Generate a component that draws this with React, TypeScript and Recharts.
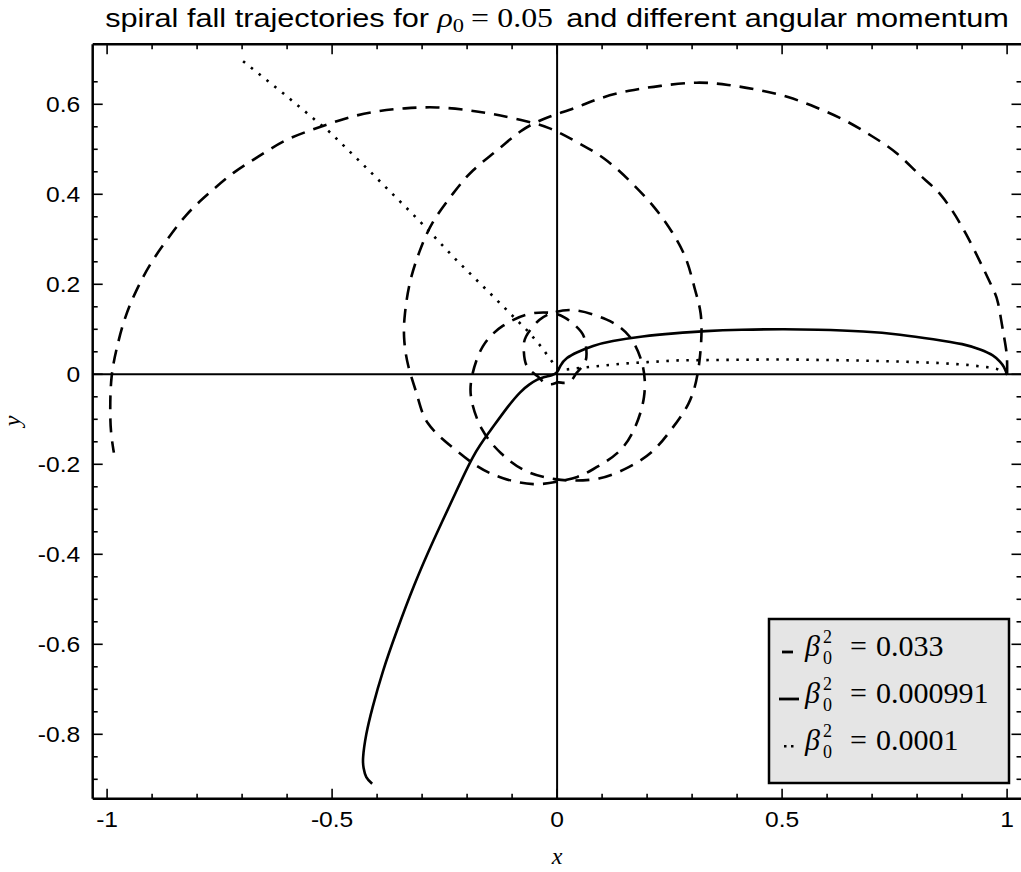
import React from "react";
import { LineChart, Line, XAxis, YAxis, ReferenceLine } from "recharts";

// axis ranges and tick positions
const X_DOMAIN: [number, number] = [-1.032, 1.032];
const Y_DOMAIN: [number, number] = [-0.9431, 0.7333];
const X_TICKS = [-1, -0.9, -0.8, -0.7, -0.6, -0.5, -0.4, -0.3, -0.2, -0.1, 0, 0.1, 0.2, 0.3, 0.4, 0.5, 0.6, 0.7, 0.8, 0.9, 1];
const Y_TICKS = [
  -0.9, -0.85, -0.8, -0.75, -0.7, -0.65, -0.6, -0.55, -0.5, -0.45, -0.4, -0.35, -0.3, -0.25, -0.2, -0.15, -0.1, -0.05,
  0, 0.05, 0.1, 0.15, 0.2, 0.25, 0.3, 0.35, 0.4, 0.45, 0.5, 0.55, 0.6, 0.65,
];

// beta0^2 = 0.033 (dashed) in path order
const beta033: [number, number][] = [
  [1.0, 0.0], [0.999, 0.045], [0.991, 0.096], [0.98, 0.158], [0.962, 0.204], [0.908, 0.313],
  [0.853, 0.398], [0.807, 0.442], [0.756, 0.49], [0.7, 0.529], [0.64, 0.564], [0.576, 0.593],
  [0.513, 0.616], [0.447, 0.632], [0.38, 0.643], [0.31, 0.648], [0.23, 0.641], [0.16, 0.63],
  [0.095, 0.613], [0.04, 0.592], [-0.02, 0.571], [-0.078, 0.542], [-0.133, 0.498], [-0.187, 0.453],
  [-0.231, 0.402], [-0.276, 0.338], [-0.306, 0.272], [-0.327, 0.204], [-0.338, 0.136], [-0.34, 0.082],
  [-0.331, 0.02], [-0.311, -0.047], [-0.287, -0.109], [-0.233, -0.162], [-0.178, -0.204], [-0.12, -0.231],
  [-0.053, -0.244], [0.004, -0.238], [0.045, -0.228], [0.08, -0.211], [0.136, -0.173], [0.173, -0.118],
  [0.193, -0.051], [0.19, 0.02], [0.16, 0.085], [0.109, 0.122], [0.042, 0.142], [-0.005, 0.138],
  [-0.039, 0.121], [-0.069, 0.084], [-0.074, 0.052], [-0.067, 0.018], [-0.044, -0.004], [-0.03, -0.017],
  [-0.013, -0.022], [0.002, -0.018],
  [0.017, -0.019], [0.033, -0.012], [0.044, 0.004], [0.063, 0.029], [0.064, 0.064], [0.053, 0.095],
  [0.017, 0.126], [-0.019, 0.137], [-0.066, 0.133], [-0.12, 0.108], [-0.165, 0.062], [-0.189, -0.004],
  [-0.19, -0.058], [-0.167, -0.122], [-0.124, -0.176], [-0.067, -0.216], [-0.005, -0.233], [0.038, -0.236],
  [0.095, -0.231], [0.158, -0.207], [0.211, -0.172], [0.252, -0.125], [0.292, -0.065], [0.312, 0.0],
  [0.32, 0.07], [0.319, 0.135], [0.306, 0.19], [0.287, 0.255], [0.256, 0.315], [0.215, 0.372],
  [0.163, 0.428], [0.105, 0.479], [0.044, 0.516], [-0.018, 0.547], [-0.08, 0.565], [-0.142, 0.578],
  [-0.2, 0.587], [-0.267, 0.593], [-0.338, 0.591], [-0.408, 0.583], [-0.475, 0.567], [-0.54, 0.545],
  [-0.605, 0.519], [-0.665, 0.483], [-0.72, 0.447], [-0.774, 0.402], [-0.823, 0.355], [-0.866, 0.3],
  [-0.903, 0.246], [-0.935, 0.186], [-0.96, 0.125], [-0.978, 0.06], [-0.99, -0.006], [-0.993, -0.078],
  [-0.991, -0.13], [-0.985, -0.174],
];

// beta0^2 = 0.000991 (solid)
const beta000991: [number, number][] = [
  [1.0, 0.0], [0.993, 0.016], [0.984, 0.028], [0.968, 0.042], [0.94, 0.055], [0.9, 0.067],
  [0.836, 0.078], [0.762, 0.088], [0.68, 0.095], [0.58, 0.099], [0.5, 0.1], [0.41, 0.099],
  [0.33, 0.096], [0.26, 0.091], [0.19, 0.084], [0.124, 0.074], [0.08, 0.063], [0.045, 0.049],
  [0.022, 0.036], [0.008, 0.02], [0.0, 0.005], [-0.012, -0.002], [-0.028, -0.006], [-0.044, -0.012],
  [-0.062, -0.023], [-0.082, -0.04], [-0.11, -0.073], [-0.149, -0.126], [-0.187, -0.184], [-0.231, -0.275],
  [-0.275, -0.37], [-0.318, -0.47], [-0.356, -0.57], [-0.387, -0.66], [-0.41, -0.74], [-0.424, -0.8],
  [-0.431, -0.85], [-0.43, -0.875], [-0.424, -0.895], [-0.411, -0.91],
];

// beta0^2 = 0.0001 (dotted)
const beta00001: [number, number][] = [
  [1.0, 0.0], [0.977, 0.012], [0.955, 0.016], [0.91, 0.021], [0.85, 0.025], [0.77, 0.028],
  [0.65, 0.031], [0.5, 0.033], [0.38, 0.032], [0.27, 0.031], [0.2, 0.027], [0.15, 0.024],
  [0.088, 0.018], [0.05, 0.014], [0.014, 0.01], [0.002, 0.012], [-0.008, 0.024], [-0.036, 0.062],
  [-0.064, 0.095], [-0.112, 0.143], [-0.149, 0.18], [-0.223, 0.253], [-0.308, 0.343], [-0.419, 0.454],
  [-0.504, 0.537], [-0.608, 0.624], [-0.698, 0.696],
];

const toPoints = (pts: [number, number][]) => pts.map(([x, y]) => ({ x, y }));

const SANS = '"Liberation Sans", Arial, Helvetica, sans-serif';
const SERIF = '"Liberation Serif", "Times New Roman", serif';
const TICK_STRETCH = 1.12;
const TICK_FONT = 22;
const TITLE_STRETCH = 1.18;

const isMajor = (v: number, step: number) => Math.abs(v / step - Math.round(v / step)) < 1e-6;

function makeTick(side: "bottom" | "top" | "left" | "right") {
  return (props: any) => {
    const { x, y, payload } = props;
    const v = payload.value as number;
    const horiz = side === "bottom" || side === "top";
    const major = isMajor(v, horiz ? 0.5 : 0.2);
    const len = major ? 10 : 5;
    let line;
    if (side === "bottom") line = <line x1={x} y1={y} x2={x} y2={y - len} />;
    else if (side === "top") line = <line x1={x} y1={y} x2={x} y2={y + len} />;
    else if (side === "left") line = <line x1={x} y1={y} x2={x + len} y2={y} />;
    else line = <line x1={x} y1={y} x2={x - len} y2={y} />;
    let label = null;
    if (major && side === "bottom") {
      label = (
        <text transform={`translate(${x},${y + 28}) scale(${TICK_STRETCH},1)`} textAnchor="middle"
          fontFamily={SANS} fontSize={TICK_FONT} fill="#000" stroke="none">{String(v)}</text>
      );
    }
    if (major && side === "left") {
      label = (
        <text transform={`translate(${x - 12.5},${y + 7.8}) scale(${TICK_STRETCH},1)`} textAnchor="end"
          fontFamily={SANS} fontSize={TICK_FONT} fill="#000" stroke="none">{String(v)}</text>
      );
    }
    return (
      <g stroke="#000" strokeWidth={1.6}>
        {line}
        {label}
      </g>
    );
  };
}

const frame = { stroke: "#000", strokeWidth: 2.5 };

function Overlay() {
  const rows = [
    { y: 656, value: "0.033", kind: "dashed" },
    { y: 703, value: "0.000991", kind: "solid" },
    { y: 750, value: "0.0001", kind: "dotted" },
  ];
  return (
    <svg width={1021} height={872} style={{ position: "absolute", left: 0, top: 0, pointerEvents: "none" }}>
      <text transform={`translate(557,27) scale(${TITLE_STRETCH},1)`} textAnchor="middle" fontFamily={SANS} fontSize={26} fill="#000">
        <tspan>spiral fall trajectories for </tspan>
        <tspan fontFamily={SERIF} fontStyle="italic" fontSize={27}>ρ</tspan>
        <tspan fontFamily={SERIF} fontSize={19} dy={5}>0</tspan>
        <tspan fontFamily={SERIF} fontSize={27} dy={-5} dx={6}>=</tspan>
        <tspan fontFamily={SERIF} fontSize={27} dx={7}>0.05</tspan>
        <tspan dx={4}> and different angular momentum</tspan>
      </text>
      <text x={557} y={864} textAnchor="middle" fontFamily={SERIF} fontStyle="italic" fontSize={24} fill="#000">x</text>
      <text transform="translate(20,421) rotate(-90)" textAnchor="middle" fontFamily={SERIF} fontStyle="italic" fontSize={24} fill="#000">y</text>

      <rect x={769} y={619} width={240} height={164} fill="#e5e5e5" stroke="#000" strokeWidth={2.5} />
      {rows.map((r) => (
        <g key={r.value}>
          {r.kind === "dashed" && <line x1={782} x2={793} y1={r.y - 4} y2={r.y - 4} stroke="#000" strokeWidth={2.8} />}
          {r.kind === "solid" && <line x1={779} x2={799} y1={r.y - 4} y2={r.y - 4} stroke="#000" strokeWidth={2.8} />}
          {r.kind === "dotted" && (
            <g fill="#000">
              <rect x={784} y={r.y - 5} width={2.5} height={2.5} />
              <rect x={791} y={r.y - 5} width={2.5} height={2.5} />
            </g>
          )}
          <text x={805} y={r.y} fontFamily={SERIF} fontStyle="italic" fontSize={30} fill="#000">β</text>
          <text x={823} y={r.y - 13} fontFamily={SERIF} fontSize={18} fill="#000">2</text>
          <text x={823} y={r.y + 8} fontFamily={SERIF} fontSize={18} fill="#000">0</text>
          <text x={850} y={r.y} fontFamily={SERIF} fontSize={30} fill="#000">=</text>
          <text x={876} y={r.y} fontFamily={SERIF} fontSize={30} fill="#000">{r.value}</text>
        </g>
      ))}
    </svg>
  );
}

export default function App() {
  return (
    <div style={{ position: "absolute", left: 0, top: 0, width: 1021, height: 872, overflow: "hidden", background: "#fff" }}>
      <LineChart width={1030} height={872} margin={{ top: 0, right: 0, bottom: 0, left: 0 }}>
        <XAxis xAxisId="b" orientation="bottom" type="number" dataKey="x" domain={X_DOMAIN} allowDataOverflow
          ticks={X_TICKS} interval={0} tick={makeTick("bottom")} tickLine={false} tickSize={0} tickMargin={0}
          axisLine={frame} height={73.3} />
        <XAxis xAxisId="t" orientation="top" type="number" dataKey="x" domain={X_DOMAIN} allowDataOverflow
          ticks={X_TICKS} interval={0} tick={makeTick("top")} tickLine={false} tickSize={0} tickMargin={0}
          axisLine={frame} height={44.3} />
        <YAxis yAxisId="l" orientation="left" type="number" dataKey="y" domain={Y_DOMAIN} allowDataOverflow
          ticks={Y_TICKS} interval={0} tick={makeTick("left")} tickLine={false} tickSize={0} tickMargin={0}
          axisLine={frame} width={92.7} />
        <YAxis yAxisId="r" orientation="right" type="number" dataKey="y" domain={Y_DOMAIN} allowDataOverflow
          ticks={Y_TICKS} interval={0} tick={makeTick("right")} tickLine={false} tickSize={0} tickMargin={0}
          axisLine={false} width={8.5} />
        <ReferenceLine xAxisId="b" yAxisId="l" y={0} stroke="#000" strokeWidth={2} />
        <ReferenceLine xAxisId="b" yAxisId="l" x={0} stroke="#000" strokeWidth={2} />
        <Line xAxisId="b" yAxisId="l" data={toPoints(beta033)} dataKey="y" type="natural" stroke="#000"
          strokeWidth={2.6} strokeDasharray="14 9" dot={false} activeDot={false} isAnimationActive={false} />
        <Line xAxisId="b" yAxisId="l" data={toPoints(beta000991)} dataKey="y" type="natural" stroke="#000"
          strokeWidth={2.6} dot={false} activeDot={false} isAnimationActive={false} />
        <Line xAxisId="b" yAxisId="l" data={toPoints(beta00001)} dataKey="y" type="linear" stroke="#000"
          strokeWidth={2.6} strokeDasharray="2.5 7.5" dot={false} activeDot={false} isAnimationActive={false} />
      </LineChart>
      <Overlay />
    </div>
  );
}
